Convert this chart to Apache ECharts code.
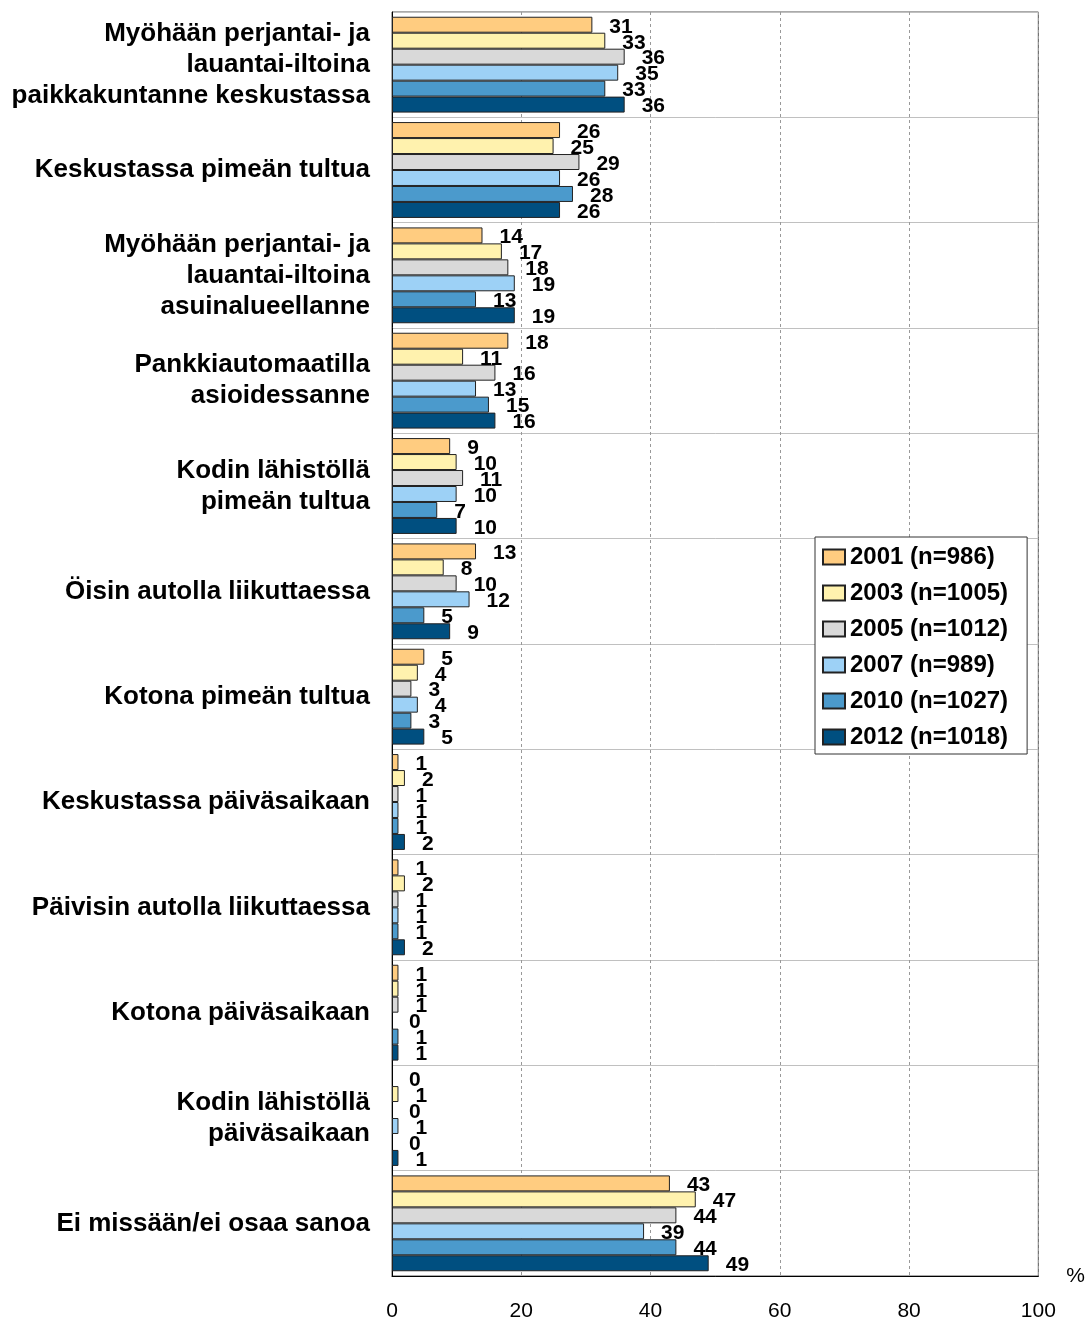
<!DOCTYPE html>
<html><head><meta charset="utf-8">
<script src="https://cdn.jsdelivr.net/npm/echarts@6/dist/echarts.min.js"></script>
<style>html,body{margin:0;padding:0;background:#fff}#c{width:1088px;height:1322px}</style>
</head><body><div id="c"></div>
<script>
const categories = [
  "Myöhään perjantai- ja\nlauantai-iltoina\npaikkakuntanne keskustassa",
  "Keskustassa pimeän tultua",
  "Myöhään perjantai- ja\nlauantai-iltoina\nasuinalueellanne",
  "Pankkiautomaatilla\nasioidessanne",
  "Kodin lähistöllä\npimeän tultua",
  "Öisin autolla liikuttaessa",
  "Kotona pimeän tultua",
  "Keskustassa päiväsaikaan",
  "Päivisin autolla liikuttaessa",
  "Kotona päiväsaikaan",
  "Kodin lähistöllä\npäiväsaikaan",
  "Ei missään/ei osaa sanoa"
];
const seriesNames = ["2001 (n=986)", "2003 (n=1005)", "2005 (n=1012)", "2007 (n=989)", "2010 (n=1027)", "2012 (n=1018)"];
const v2001 = [31, 26, 14, 18, 9, 13, 5, 1, 1, 1, 0, 43];
const v2003 = [33, 25, 17, 11, 10, 8, 4, 2, 2, 1, 1, 47];
const v2005 = [36, 29, 18, 16, 11, 10, 3, 1, 1, 1, 0, 44];
const v2007 = [35, 26, 19, 13, 10, 12, 4, 1, 1, 0, 1, 39];
const v2010 = [33, 28, 13, 15, 7, 5, 3, 1, 1, 1, 0, 44];
const v2012 = [36, 26, 19, 16, 10, 9, 5, 2, 2, 1, 1, 49];
const xTicks = [0, 20, 40, 60, 80, 100];
const colors = ["#FFCC80", "#FFF2AE", "#D9D9D9", "#9DD1F6", "#4B9ACC", "#004F80"];

const allValues = [v2001, v2003, v2005, v2007, v2010, v2012];
const font = "'Liberation Sans', Arial, sans-serif";
const chart = echarts.init(document.getElementById('c'), null, {renderer: 'canvas'});
chart.setOption({
  animation: false,
  textStyle: {fontFamily: font},
  grid: {left: 392, right: 49, top: 12, bottom: 45, show: true, borderColor: '#555', borderWidth: 1, containLabel: false},
  legend: {
    orient: 'vertical', left: 815, top: 537,
    data: seriesNames,
    icon: 'rect',
    backgroundColor: '#fff', borderColor: '#333', borderWidth: 1,
    padding: [8, 19, 5, 7],
    itemWidth: 22, itemHeight: 15, itemGap: 12,
    textStyle: {fontSize: 24, fontWeight: 'bold', color: '#000', fontFamily: font, lineHeight: 24}
  },
  xAxis: {
    type: 'value', min: 0, max: 100, interval: 20,
    name: '%', nameLocation: 'end', nameGap: 28,
    nameTextStyle: {fontSize: 21, color: '#000', fontFamily: font, padding: [4, 0, 0, 0]},
    axisLine: {show: true, lineStyle: {color: '#000', width: 1}},
    axisTick: {show: false},
    axisLabel: {margin: 25, fontSize: 21, color: '#000', fontFamily: font,
      formatter: v => xTicks.includes(v) ? String(v) : ''},
    splitLine: {show: true, lineStyle: {color: '#999', type: [3, 3], width: 1}}
  },
  yAxis: {
    type: 'category', data: categories, inverse: true,
    axisLine: {show: true, lineStyle: {color: '#000', width: 1}},
    axisTick: {show: false},
    axisLabel: {margin: 22, fontSize: 26, fontWeight: 'bold', color: '#000', lineHeight: 31, align: 'right', fontFamily: font},
    splitLine: {show: true, lineStyle: {color: '#c0c0c0', width: 1}}
  },
  series: seriesNames.map((n, i) => ({
    name: n, type: 'bar',
    data: allValues[i].map(v => v === 0 ? {value: v, itemStyle: {borderWidth: 0}} : v),
    barGap: '0%', barCategoryGap: '9%',
    itemStyle: {color: colors[i], borderColor: '#222', borderWidth: 1},
    label: {show: true, position: 'right', distance: 17, offset: [0, 2],
      fontSize: 21, fontWeight: 'bold', color: '#000', fontFamily: font}
  }))
});
</script></body></html>
